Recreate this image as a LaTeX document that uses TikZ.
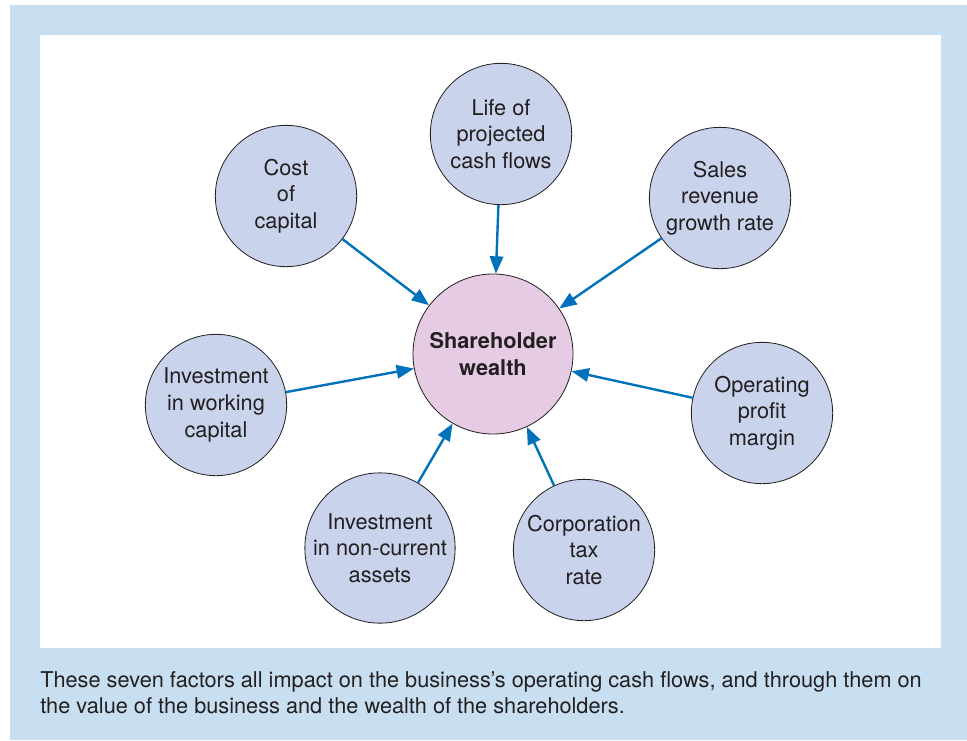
\documentclass[tikz,border=0pt]{standalone}
\usepackage{fontspec}
\setmainfont{TeX Gyre Heros}
\usetikzlibrary{arrows.meta}
\definecolor{panelblue}{RGB}{200,223,242}
\definecolor{factorfill}{RGB}{201,211,236}
\definecolor{wealthfill}{RGB}{229,204,228}
\definecolor{arrowblue}{RGB}{0,114,188}
\definecolor{inkgray}{RGB}{35,31,32}
\tikzset{
    impact/.style={-{Triangle[length=13pt, width=10pt]}, line width=1.8pt, arrowblue},
    factor/.style={draw=inkgray, line width=0.6pt, circle, fill=factorfill, minimum size=106pt, inner sep=0pt, align=center, text=inkgray, font=\fontsize{16.3}{20}\selectfont},
    wealth/.style={factor, fill=wealthfill, minimum size=120pt, font=\fontsize{16.3}{20}\selectfont\bfseries}
}

\begin{document}
\begin{tikzpicture}[x=0.75pt, y=-0.75pt]
    \useasboundingbox (0,0) rectangle (967,740);
    % panel and white drawing area
    \fill[panelblue] (10,5) rectangle (967,740);
    \fill[white] (40,35) rectangle (941,648);

    \node[wealth] (sw) at (493,354) {Shareholder\\wealth};

    \node[factor] (cost) at (286,196) {Cost\\of\\capital};
    \node[factor] (life) at (501,134) {Life of\\projected\\cash flows};
    \node[factor] (sales) at (720,198) {Sales\\revenue\\growth rate};
    \node[factor] (wc) at (216,405) {Investment\\in working\\capital};
    \node[factor] (margin) at (762,413) {Operating\\profit\\margin};
    \node[factor] (nca) at (380,548) {Investment\\in non-current\\assets};
    \node[factor] (tax) at (584,550) {Corporation\\tax\\rate};

    \draw[impact] (cost) -- (sw);
    \draw[impact] (life) -- (sw);
    \draw[impact] (sales) -- (sw);
    \draw[impact] (wc) -- (sw);
    \draw[impact] (margin) -- (sw);
    \draw[impact] (nca) -- (sw);
    \draw[impact] (tax) -- (sw);

    \node[anchor=north west, inner sep=0pt, align=left, text=inkgray, font=\fontsize{16.3}{20}\selectfont] (caption) at (40,671)
        {These seven factors all impact on the business’s operating cash flows, and through them on\\the value of the business and the wealth of the shareholders.};
\end{tikzpicture}
\end{document}
